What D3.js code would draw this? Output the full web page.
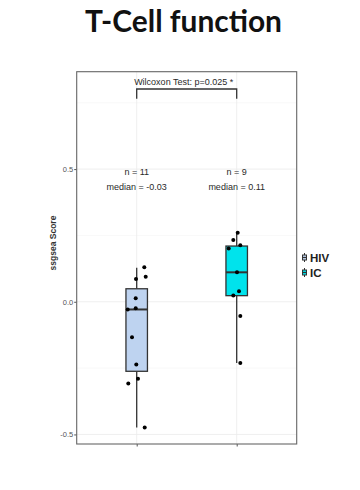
<!DOCTYPE html>
<html>
<head>
<meta charset="utf-8">
<title>T-Cell function</title>
<script src="https://cdn.jsdelivr.net/npm/d3@7"></script>
<style>
    body { margin: 0; background: white; }
    .grid-major { stroke: #ebebeb; stroke-width: 0.8px; }
    .grid-minor { stroke: #f4f4f4; stroke-width: 0.6px; }
    .box { stroke: #333; stroke-width: 1.3px; }
    .whisker { stroke: #333; stroke-width: 1.3px; }
    .median { stroke: #333; stroke-width: 2px; }
    .dot { fill: black; }
    .lab { font-family: "Liberation Sans", Arial, sans-serif; fill: #2a2a2a; }
</style>
</head>
<body>
<script>
// groups and colours
const groups = ["HIV", "IC"];
const fills = ["#bed3f0", "#00e3ec"];
const nCounts = [11, 9];
const medianLabels = ["-0.03", "0.11"];

// box stats per group: lower whisker, Q1, median, Q3, upper whisker
const lowWhisk = [-0.474, -0.231];
const q1 = [-0.262, 0.023];
const med = [-0.029, 0.111];
const q3 = [0.049, 0.21];
const highWhisk = [0.128, 0.26];

// jittered points: value and x offset (in category units)
const hivValues = [0.13, 0.086, 0.094, 0.013, -0.029, -0.024, -0.134, -0.236, -0.29, -0.308, -0.474];
const hivJitter = [0.076, -0.007, 0.09, -0.01, -0.09, -0.01, -0.047, -0.004, 0.013, -0.084, 0.08];
const icValues = [0.26, 0.233, 0.201, 0.213, 0.111, 0.04, 0.024, -0.054, -0.231];
const icJitter = [0.01, -0.034, -0.08, 0.036, 0.003, 0.023, -0.034, 0.036, 0.036];

const yTicks = [-0.5, 0, 0.5];
const yMinor = [-0.25, 0.25, 0.75];
const yTickLabels = ["-0.5", "0.0", "0.5"];

const W = 360, H = 490;
const panel = {left: 76.7, right: 296.7, top: 71.7, bottom: 444};

const svg = d3.select("body").append("svg").attr("width", W).attr("height", H);

svg.append("text")
    .attr("x", 183.5).attr("y", 31.5)
    .attr("text-anchor", "middle")
    .attr("font-family", "Lato, 'Open Sans', sans-serif")
    .attr("font-weight", "bold")
    .attr("font-size", 30)
    .attr("textLength", 197).attr("lengthAdjust", "spacingAndGlyphs")
    .attr("fill", "#111")
    .text("T-Cell function");

const x = d3.scalePoint().domain(groups).range([panel.left, panel.right]).padding(0.6);
const step = x.step();
const y = d3.scaleLinear().domain([-0.536, 0.867]).range([panel.bottom, panel.top]);

const g = svg.append("g");

// grid
g.selectAll(".grid-minor").data(yMinor).enter().append("line")
    .attr("class", "grid-minor")
    .attr("x1", panel.left).attr("x2", panel.right)
    .attr("y1", d => y(d)).attr("y2", d => y(d));
g.selectAll(".grid-major").data(yTicks).enter().append("line")
    .attr("class", "grid-major")
    .attr("x1", panel.left).attr("x2", panel.right)
    .attr("y1", d => y(d)).attr("y2", d => y(d));
g.selectAll(".grid-x").data(groups).enter().append("line")
    .attr("class", "grid-major")
    .attr("x1", d => x(d)).attr("x2", d => x(d))
    .attr("y1", panel.top).attr("y2", panel.bottom);

// axes
const yAxis = d3.axisLeft(y).tickValues(yTicks).tickSize(2.5).tickPadding(1)
    .tickFormat((d, i) => yTickLabels[i]);
const ya = svg.append("g").attr("transform", `translate(${panel.left},0)`).call(yAxis);
ya.select(".domain").remove();
ya.selectAll("line").attr("stroke", "#555");
ya.selectAll("text").attr("fill", "#555").attr("font-size", 7.5)
    .attr("font-family", "Liberation Sans, Arial, sans-serif");

const xAxis = d3.axisBottom(x).tickSize(2.5).tickFormat("");
const xa = svg.append("g").attr("transform", `translate(0,${panel.bottom})`).call(xAxis);
xa.select(".domain").remove();
xa.selectAll("line").attr("stroke", "#555");

svg.append("text")
    .attr("transform", "translate(56,243) rotate(-90)")
    .attr("text-anchor", "middle")
    .attr("font-family", "Liberation Sans, Arial, sans-serif")
    .attr("font-weight", "bold").attr("font-size", 8.5)
    .attr("fill", "#333")
    .text("ssgsea Score");

// boxplots
const boxW = 0.215 * step;
groups.forEach((grp, i) => {
    const cx = x(grp);
    g.append("line").attr("class", "whisker")
        .attr("x1", cx).attr("x2", cx)
        .attr("y1", y(highWhisk[i])).attr("y2", y(q3[i]));
    g.append("line").attr("class", "whisker")
        .attr("x1", cx).attr("x2", cx)
        .attr("y1", y(q1[i])).attr("y2", y(lowWhisk[i]));
    g.append("rect").attr("class", "box")
        .attr("x", cx - boxW / 2).attr("width", boxW)
        .attr("y", y(q3[i])).attr("height", y(q1[i]) - y(q3[i]))
        .attr("fill", fills[i]);
    g.append("line").attr("class", "median")
        .attr("x1", cx - boxW / 2).attr("x2", cx + boxW / 2)
        .attr("y1", y(med[i])).attr("y2", y(med[i]));
});

// points
const pts = hivValues.map((v, i) => ({g: "HIV", v, j: hivJitter[i]}))
    .concat(icValues.map((v, i) => ({g: "IC", v, j: icJitter[i]})));
g.selectAll(".dot").data(pts).enter().append("circle")
    .attr("class", "dot")
    .attr("cx", d => x(d.g) + d.j * step)
    .attr("cy", d => y(d.v))
    .attr("r", 2);

// n / median labels
groups.forEach((grp, i) => {
    svg.append("text").attr("class", "lab")
        .attr("x", x(grp)).attr("y", 175).attr("text-anchor", "middle")
        .attr("font-size", 9).text(`n = ${nCounts[i]}`);
    svg.append("text").attr("class", "lab")
        .attr("x", x(grp)).attr("y", 189.5).attr("text-anchor", "middle")
        .attr("font-size", 9).text(`median = ${medianLabels[i]}`);
});

// significance bracket
const by = 89, bDrop = 98.7;
svg.append("path")
    .attr("d", `M${x("HIV")},${bDrop}V${by}H${x("IC")}V${bDrop}`)
    .attr("fill", "none").attr("stroke", "#333").attr("stroke-width", 1.3);
svg.append("text").attr("class", "lab")
    .attr("x", (x("HIV") + x("IC")) / 2 - 3).attr("y", 85)
    .attr("text-anchor", "middle").attr("font-size", 9)
    .text("Wilcoxon Test: p=0.025 *");

// panel border
svg.append("rect")
    .attr("x", panel.left).attr("y", panel.top)
    .attr("width", panel.right - panel.left).attr("height", panel.bottom - panel.top)
    .attr("fill", "none").attr("stroke", "#666").attr("stroke-width", 1.1);

// legend
const legend = svg.append("g").attr("transform", "translate(302,251)");
groups.forEach((grp, i) => {
    const ly = i * 15;
    const kg = legend.append("g").attr("transform", `translate(0,${ly})`);
    kg.append("line").attr("x1", 2.5).attr("x2", 2.5).attr("y1", 2).attr("y2", 11)
        .attr("stroke", "#333").attr("stroke-width", 1);
    kg.append("rect").attr("x", 0.5).attr("y", 4).attr("width", 4).attr("height", 5)
        .attr("fill", fills[i]).attr("stroke", "#333").attr("stroke-width", 1);
    kg.append("line").attr("x1", 0.5).attr("x2", 4.5).attr("y1", 6.5).attr("y2", 6.5)
        .attr("stroke", "#333").attr("stroke-width", 1.2);
    legend.append("text")
        .attr("x", 8).attr("y", ly + 10.5)
        .attr("font-family", "Liberation Sans, Arial, sans-serif")
        .attr("font-weight", "bold").attr("font-size", 11.5)
        .attr("fill", "#222")
        .text(grp);
});
</script>
</body>
</html>
